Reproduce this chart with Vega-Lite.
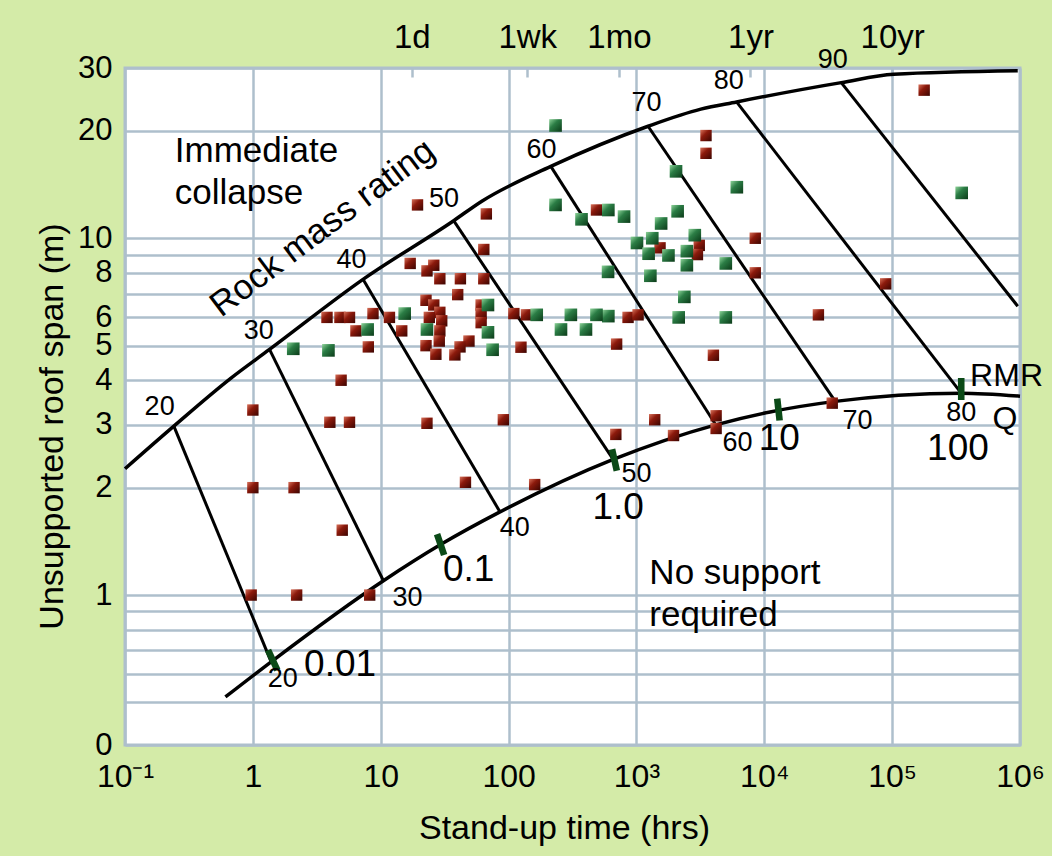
{
  "$schema": "https://vega.github.io/schema/vega-lite/v6.json",
  "width": 895,
  "height": 677,
  "autosize": {"type": "none"},
  "padding": {"left": 125, "top": 68, "right": 32, "bottom": 111},
  "background": "#d4eba8",
  "config": {
    "font": "Liberation Sans",
    "view": {"fill": "#ffffff", "stroke": "#aebfcc", "strokeWidth": 3},
    "axis": {
      "labelFont": "Liberation Sans",
      "titleFont": "Liberation Sans",
      "labelColor": "#000000",
      "titleColor": "#000000",
      "titleFontWeight": "normal",
      "domain": false,
      "gridColor": "#aebfcc",
      "gridWidth": 2.5,
      "gridOpacity": 1
    }
  },
  "datasets": {
    "curves": [
      {"curve": "upper", "t": 0.1, "span": 2.26},
      {"curve": "upper", "t": 0.241, "span": 2.975},
      {"curve": "upper", "t": 0.671, "span": 4.05},
      {"curve": "upper", "t": 1.35, "span": 4.88},
      {"curve": "upper", "t": 7.27, "span": 7.67},
      {"curve": "upper", "t": 37.2, "span": 11.2},
      {"curve": "upper", "t": 61.8, "span": 12.7},
      {"curve": "upper", "t": 214, "span": 15.9},
      {"curve": "upper", "t": 1233, "span": 20.6},
      {"curve": "upper", "t": 3190, "span": 23.0},
      {"curve": "upper", "t": 6070, "span": 24.1},
      {"curve": "upper", "t": 40000, "span": 27.3},
      {"curve": "upper", "t": 103000, "span": 28.8},
      {"curve": "upper", "t": 960000, "span": 29.45},
      {"curve": "lower", "t": 0.61, "span": 0.518},
      {"curve": "lower", "t": 1.39, "span": 0.65},
      {"curve": "lower", "t": 10.5, "span": 1.097},
      {"curve": "lower", "t": 29.4, "span": 1.385},
      {"curve": "lower", "t": 85.7, "span": 1.71},
      {"curve": "lower", "t": 658, "span": 2.4},
      {"curve": "lower", "t": 4170, "span": 3.0},
      {"curve": "lower", "t": 11100, "span": 3.26},
      {"curve": "lower", "t": 35900, "span": 3.49},
      {"curve": "lower", "t": 347000, "span": 3.68},
      {"curve": "lower", "t": 1000000, "span": 3.61}
    ],
    "rmr": [
      {"rmr": 20, "t": 0.241, "span": 2.975}, {"rmr": 20, "t": 1.39, "span": 0.65},
      {"rmr": 30, "t": 1.35, "span": 4.88}, {"rmr": 30, "t": 10.5, "span": 1.097},
      {"rmr": 40, "t": 7.27, "span": 7.67}, {"rmr": 40, "t": 85.7, "span": 1.71},
      {"rmr": 50, "t": 37.2, "span": 11.2}, {"rmr": 50, "t": 658, "span": 2.4},
      {"rmr": 60, "t": 214, "span": 15.9}, {"rmr": 60, "t": 4170, "span": 3.0},
      {"rmr": 70, "t": 1233, "span": 20.6}, {"rmr": 70, "t": 35900, "span": 3.49},
      {"rmr": 80, "t": 6070, "span": 24.1}, {"rmr": 80, "t": 347000, "span": 3.68},
      {"rmr": 90, "t": 40000, "span": 27.3}, {"rmr": 90, "t": 960000, "span": 6.45}
    ],
    "qticks": [
      {"q": 0.01, "t": 1.43, "span": 0.657},
      {"q": 0.1, "t": 29.4, "span": 1.385},
      {"q": 1, "t": 673, "span": 2.39},
      {"q": 10, "t": 12900, "span": 3.31},
      {"q": 100, "t": 347000, "span": 3.78}
    ],
    "points": [
      {"group": "red", "t": 1, "span": 3.3}, {"group": "red", "t": 4, "span": 3.05},
      {"group": "red", "t": 5.7, "span": 3.05}, {"group": "red", "t": 23, "span": 3.03},
      {"group": "red", "t": 4.9, "span": 4.0}, {"group": "red", "t": 1, "span": 2.0},
      {"group": "red", "t": 2.1, "span": 2.0}, {"group": "red", "t": 5.0, "span": 1.52},
      {"group": "red", "t": 0.97, "span": 1.0}, {"group": "red", "t": 2.2, "span": 1.0},
      {"group": "red", "t": 8.2, "span": 1.0}, {"group": "red", "t": 64, "span": 9.3},
      {"group": "red", "t": 17, "span": 8.5}, {"group": "red", "t": 26, "span": 8.4},
      {"group": "red", "t": 23, "span": 8.1}, {"group": "red", "t": 29, "span": 7.7},
      {"group": "red", "t": 42, "span": 7.7}, {"group": "red", "t": 64, "span": 7.7},
      {"group": "red", "t": 40, "span": 6.95}, {"group": "red", "t": 22.6, "span": 6.7},
      {"group": "red", "t": 26, "span": 6.5}, {"group": "red", "t": 29, "span": 6.2},
      {"group": "red", "t": 3.8, "span": 6.0}, {"group": "red", "t": 4.8, "span": 6.0},
      {"group": "red", "t": 5.7, "span": 6.0}, {"group": "red", "t": 8.7, "span": 6.15},
      {"group": "red", "t": 11.7, "span": 6.0}, {"group": "red", "t": 24, "span": 6.0},
      {"group": "red", "t": 30, "span": 5.87}, {"group": "red", "t": 6.4, "span": 5.5},
      {"group": "red", "t": 14.6, "span": 5.5}, {"group": "red", "t": 29, "span": 5.5},
      {"group": "red", "t": 28.7, "span": 5.15}, {"group": "red", "t": 22.6, "span": 5.0},
      {"group": "red", "t": 49, "span": 5.15}, {"group": "red", "t": 41.7, "span": 4.96},
      {"group": "red", "t": 27, "span": 4.73}, {"group": "red", "t": 38, "span": 4.71},
      {"group": "red", "t": 8, "span": 4.96}, {"group": "red", "t": 91, "span": 3.1},
      {"group": "red", "t": 61, "span": 6.5}, {"group": "red", "t": 61, "span": 6.15},
      {"group": "red", "t": 61, "span": 5.8}, {"group": "red", "t": 110, "span": 6.15},
      {"group": "red", "t": 19.4, "span": 12.4}, {"group": "red", "t": 3500, "span": 19.4},
      {"group": "red", "t": 3500, "span": 17.3}, {"group": "red", "t": 487, "span": 12.0},
      {"group": "red", "t": 67, "span": 11.7}, {"group": "red", "t": 1530, "span": 9.4},
      {"group": "red", "t": 3100, "span": 9.55}, {"group": "red", "t": 3000, "span": 9.0},
      {"group": "red", "t": 8500, "span": 10.0}, {"group": "red", "t": 8500, "span": 8.0},
      {"group": "red", "t": 860, "span": 6.0}, {"group": "red", "t": 1030, "span": 6.1},
      {"group": "red", "t": 138, "span": 6.1}, {"group": "red", "t": 125, "span": 4.95},
      {"group": "red", "t": 700, "span": 5.05}, {"group": "red", "t": 4000, "span": 4.7},
      {"group": "red", "t": 178000, "span": 26}, {"group": "red", "t": 89000, "span": 7.45},
      {"group": "red", "t": 26500, "span": 6.1}, {"group": "red", "t": 1390, "span": 3.1},
      {"group": "red", "t": 4200, "span": 3.18}, {"group": "red", "t": 4200, "span": 2.93},
      {"group": "red", "t": 690, "span": 2.82}, {"group": "red", "t": 1950, "span": 2.8},
      {"group": "red", "t": 46, "span": 2.07}, {"group": "red", "t": 160, "span": 2.04},
      {"group": "red", "t": 34000, "span": 3.45},
      {"group": "green", "t": 15.4, "span": 6.15}, {"group": "green", "t": 7.9, "span": 5.55},
      {"group": "green", "t": 23, "span": 5.55}, {"group": "green", "t": 2.07, "span": 4.9},
      {"group": "green", "t": 3.9, "span": 4.85}, {"group": "green", "t": 69, "span": 6.5},
      {"group": "green", "t": 69, "span": 5.45}, {"group": "green", "t": 75, "span": 4.87},
      {"group": "green", "t": 233, "span": 20.7}, {"group": "green", "t": 2040, "span": 15.4},
      {"group": "green", "t": 6100, "span": 13.9}, {"group": "green", "t": 233, "span": 12.4},
      {"group": "green", "t": 372, "span": 11.3}, {"group": "green", "t": 603, "span": 12.0},
      {"group": "green", "t": 800, "span": 11.5}, {"group": "green", "t": 2100, "span": 11.9},
      {"group": "green", "t": 1560, "span": 11.0}, {"group": "green", "t": 2860, "span": 10.2},
      {"group": "green", "t": 1330, "span": 10.0}, {"group": "green", "t": 1010, "span": 9.7},
      {"group": "green", "t": 1245, "span": 9.05}, {"group": "green", "t": 1780, "span": 8.95},
      {"group": "green", "t": 2480, "span": 9.2}, {"group": "green", "t": 2480, "span": 8.4},
      {"group": "green", "t": 5000, "span": 8.5}, {"group": "green", "t": 600, "span": 8.05},
      {"group": "green", "t": 1285, "span": 7.85}, {"group": "green", "t": 2370, "span": 6.85},
      {"group": "green", "t": 2140, "span": 6.0}, {"group": "green", "t": 5000, "span": 6.0},
      {"group": "green", "t": 603, "span": 6.05}, {"group": "green", "t": 487, "span": 6.1},
      {"group": "green", "t": 307, "span": 6.1}, {"group": "green", "t": 257, "span": 5.55},
      {"group": "green", "t": 403, "span": 5.55}, {"group": "green", "t": 166, "span": 6.1},
      {"group": "green", "t": 350000, "span": 13.4}
    ],
    "rmrlabels": [
      {"label": "20", "t": 0.1866, "span": 3.36},
      {"label": "30", "t": 1.11, "span": 5.48},
      {"label": "40", "t": 5.91, "span": 8.7},
      {"label": "50", "t": 31.2, "span": 12.9},
      {"label": "60", "t": 181, "span": 17.7},
      {"label": "70", "t": 1197, "span": 23.9},
      {"label": "80", "t": 5280, "span": 27.6},
      {"label": "90", "t": 34300, "span": 31.6},
      {"label": "20", "t": 1.71, "span": 0.583},
      {"label": "30", "t": 16.2, "span": 0.98},
      {"label": "40", "t": 112, "span": 1.54},
      {"label": "50", "t": 1000, "span": 2.18},
      {"label": "60", "t": 6170, "span": 2.66},
      {"label": "70", "t": 53600, "span": 3.07},
      {"label": "80", "t": 347000, "span": 3.24}
    ],
    "qlabels": [
      {"label": "0.01", "t": 4.81, "span": 0.638},
      {"label": "0.1", "t": 48.7, "span": 1.178},
      {"label": "1.0", "t": 720, "span": 1.757},
      {"label": "10", "t": 13100, "span": 2.73},
      {"label": "100", "t": 327000, "span": 2.56}
    ],
    "keys": [
      {"label": "RMR", "t": 785000, "span": 4.12},
      {"label": "Q", "t": 762000, "span": 3.12}
    ],
    "regions": [
      {"label": "Immediate", "t": 0.245, "span": 17.6},
      {"label": "collapse", "t": 0.245, "span": 13.4},
      {"label": "No support", "t": 1262, "span": 1.153},
      {"label": "required", "t": 1262, "span": 0.879}
    ],
    "rating": [
      {"label": "Rock mass rating", "t": 3.5, "span": 10.7}
    ]
  },
  "resolve": {"axis": {"x": "independent"}},
  "layer": [
    {
      "data": {"name": "curves"},
      "mark": {"type": "line", "color": "#000000", "strokeWidth": 3.5, "interpolate": "monotone"},
      "encoding": {
        "x": {
          "field": "t", "type": "quantitative",
          "scale": {"type": "log", "domain": [0.1, 1000000], "nice": false},
          "axis": {
            "orient": "bottom",
            "title": "Stand-up time (hrs)",
            "values": [0.1, 1, 10, 100, 1000, 10000, 100000, 1000000],
            "labelExpr": "datum.value < 0.5 ? '10⁻¹' : datum.value < 5 ? '1' : datum.value < 50 ? '10' : datum.value < 500 ? '100' : datum.value < 5000 ? '10³' : datum.value < 50000 ? '10⁴' : datum.value < 500000 ? '10⁵' : '10⁶'",
            "labelFontSize": 32,
            "labelFlush": false,
            "labelOverlap": false,
            "labelBound": false,
            "ticks": false,
            "tickSize": 0,
            "labelPadding": 41,
            "labelBaseline": "alphabetic",
            "grid": true,
            "titleFontSize": 34,
            "titleX": 439,
            "titleY": 93,
            "titleBaseline": "alphabetic",
            "titleAlign": "center"
          }
        },
        "y": {
          "field": "span", "type": "quantitative",
          "scale": {"type": "log", "domain": [0.38, 30], "nice": false},
          "axis": {
            "title": "Unsupported roof span (m)",
            "values": [0.38, 0.5, 0.6, 0.7, 0.8, 0.9, 1, 2, 3, 4, 5, 6, 7, 8, 9, 10, 20, 30],
            "labelExpr": "datum.value < 0.45 ? '0' : (datum.value < 0.95 || datum.value == 7 || datum.value == 9) ? '' : format(datum.value, 'd')",
            "labelFontSize": 31,
            "ticks": false,
            "tickSize": 0,
            "labelPadding": 13,
            "labelOverlap": false,
            "labelFlush": false,
            "labelBound": false,
            "grid": true,
            "titleFontSize": 34,
            "titleX": -63,
            "titleY": 358,
            "titleBaseline": "alphabetic",
            "titleAlign": "center",
            "titleAngle": 270
          }
        },
        "detail": {"field": "curve"}
      }
    },
    {
      "data": {"name": "rmr"},
      "mark": {"type": "line", "color": "#000000", "strokeWidth": 3},
      "encoding": {
        "x": {"field": "t", "type": "quantitative", "scale": {"type": "log", "domain": [0.1, 1000000], "nice": false}, "axis": null},
        "y": {"field": "span", "type": "quantitative", "scale": {"type": "log", "domain": [0.38, 30], "nice": false}},
        "detail": {"field": "rmr"}
      }
    },
    {
      "data": {"name": "points"},
      "transform": [{"filter": "datum.group == 'red'"}],
      "mark": {
        "type": "square", "size": 130, "opacity": 1,
        "fill": {"gradient": "linear", "x1": 0, "y1": 0, "x2": 1, "y2": 1,
          "stops": [{"offset": 0, "color": "#d9735c"}, {"offset": 0.4, "color": "#8c1a0c"}, {"offset": 1, "color": "#3a0400"}]}
      },
      "encoding": {
        "x": {"field": "t", "type": "quantitative", "scale": {"type": "log", "domain": [0.1, 1000000], "nice": false}, "axis": null},
        "y": {"field": "span", "type": "quantitative", "scale": {"type": "log", "domain": [0.38, 30], "nice": false}}
      }
    },
    {
      "data": {"name": "points"},
      "transform": [{"filter": "datum.group == 'green'"}],
      "mark": {
        "type": "square", "size": 160, "opacity": 1,
        "fill": {"gradient": "linear", "x1": 0, "y1": 0, "x2": 1, "y2": 1,
          "stops": [{"offset": 0, "color": "#8fd49a"}, {"offset": 0.4, "color": "#2b7d45"}, {"offset": 1, "color": "#0b3a18"}]}
      },
      "encoding": {
        "x": {"field": "t", "type": "quantitative", "scale": {"type": "log", "domain": [0.1, 1000000], "nice": false}, "axis": null},
        "y": {"field": "span", "type": "quantitative", "scale": {"type": "log", "domain": [0.38, 30], "nice": false}}
      }
    },
    {
      "data": {"name": "qticks"},
      "mark": {"type": "point", "shape": "M-0.3,-1H0.3V1H-0.3Z", "filled": true, "fill": "#0b4a17", "size": 484, "opacity": 1, "strokeWidth": 0},
      "encoding": {
        "x": {"field": "t", "type": "quantitative", "scale": {"type": "log", "domain": [0.1, 1000000], "nice": false}, "axis": null},
        "y": {"field": "span", "type": "quantitative", "scale": {"type": "log", "domain": [0.38, 30], "nice": false}},
        "angle": {"field": "q", "type": "quantitative", "scale": {"type": "log", "domain": [0.01, 100], "range": [335, 360]}, "legend": null}
      }
    },
    {
      "data": {"name": "rmrlabels"},
      "mark": {"type": "text", "fontSize": 27, "align": "center", "baseline": "middle", "color": "#000000"},
      "encoding": {
        "x": {"field": "t", "type": "quantitative", "scale": {"type": "log", "domain": [0.1, 1000000], "nice": false}, "axis": null},
        "y": {"field": "span", "type": "quantitative", "scale": {"type": "log", "domain": [0.38, 30], "nice": false}},
        "text": {"field": "label"}
      }
    },
    {
      "data": {"name": "qlabels"},
      "mark": {"type": "text", "fontSize": 37, "align": "center", "baseline": "middle", "color": "#000000"},
      "encoding": {
        "x": {"field": "t", "type": "quantitative", "scale": {"type": "log", "domain": [0.1, 1000000], "nice": false}, "axis": null},
        "y": {"field": "span", "type": "quantitative", "scale": {"type": "log", "domain": [0.38, 30], "nice": false}},
        "text": {"field": "label"}
      }
    },
    {
      "data": {"name": "keys"},
      "mark": {"type": "text", "fontSize": 32, "align": "center", "baseline": "middle", "color": "#000000"},
      "encoding": {
        "x": {"field": "t", "type": "quantitative", "scale": {"type": "log", "domain": [0.1, 1000000], "nice": false}, "axis": null},
        "y": {"field": "span", "type": "quantitative", "scale": {"type": "log", "domain": [0.38, 30], "nice": false}},
        "text": {"field": "label"}
      }
    },
    {
      "data": {"name": "regions"},
      "mark": {"type": "text", "fontSize": 35, "align": "left", "baseline": "middle", "color": "#000000"},
      "encoding": {
        "x": {"field": "t", "type": "quantitative", "scale": {"type": "log", "domain": [0.1, 1000000], "nice": false}, "axis": null},
        "y": {"field": "span", "type": "quantitative", "scale": {"type": "log", "domain": [0.38, 30], "nice": false}},
        "text": {"field": "label"}
      }
    },
    {
      "data": {"name": "rating"},
      "mark": {"type": "text", "fontSize": 35, "align": "center", "baseline": "middle", "angle": 323, "color": "#000000"},
      "encoding": {
        "x": {
          "field": "t", "type": "quantitative",
          "scale": {"type": "log", "domain": [0.1, 1000000], "nice": false},
          "axis": {
            "orient": "top",
            "title": null,
            "values": [17.5, 140, 730, 7800, 100000],
            "labelExpr": "datum.value < 50 ? '1d' : datum.value < 400 ? '1wk' : datum.value < 3000 ? '1mo' : datum.value < 30000 ? '1yr' : '10yr'",
            "grid": false,
            "ticks": true,
            "tickSize": -9,
            "tickColor": "#aebfcc",
            "tickWidth": 2.5,
            "labelPadding": 30,
            "labelBaseline": "alphabetic",
            "labelFontSize": 33,
            "labelFlush": false,
            "labelOverlap": false,
            "labelBound": false
          }
        },
        "y": {"field": "span", "type": "quantitative", "scale": {"type": "log", "domain": [0.38, 30], "nice": false}},
        "text": {"field": "label"}
      }
    }
  ]
}
